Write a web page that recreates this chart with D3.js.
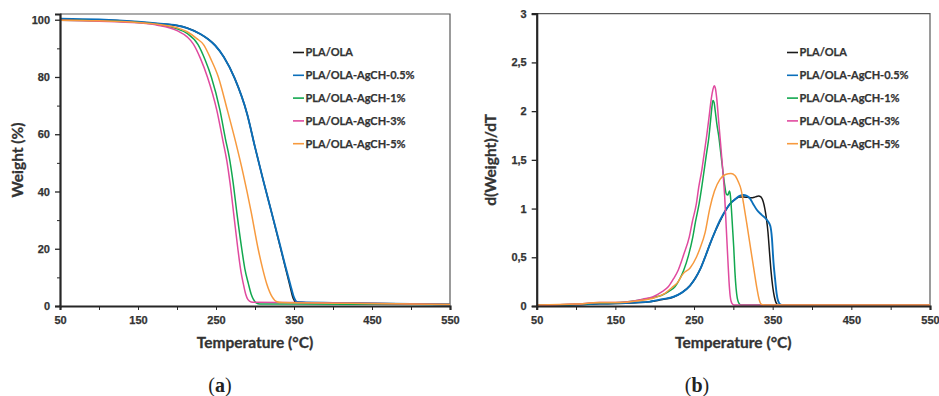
<!DOCTYPE html>
<html>
<head>
<meta charset="utf-8">
<script src="https://cdn.jsdelivr.net/npm/d3@7"></script>
<style>
  body { margin: 0; background: #fff; }
  svg { display: block; font-family: Lato, "Open Sans", sans-serif; }
  .tick text { font-weight: bold; font-size: 11px; fill: #333; stroke: #333; stroke-width: 0.25; }
  .axis path, .axis line { stroke: #262626; }
</style>
</head>
<body>
<div id="chart"></div>
<script>
// series names, same order in both panels
const seriesNames = ["PLA/OLA", "PLA/OLA-AgCH-0.5%", "PLA/OLA-AgCH-1%", "PLA/OLA-AgCH-3%", "PLA/OLA-AgCH-5%"];
const seriesColors = ["#1a1a1a", "#0b6fba", "#12a84f", "#e04a9f", "#f79a3e"];

const xTicks = [50, 100, 150, 200, 250, 300, 350, 400, 450, 500, 550];
const xLabels = [50, 150, 250, 350, 450, 550];
const weightTicks = [0, 20, 40, 60, 80, 100];
const weightMinor = [10, 30, 50, 70, 90];
const dtgTicks = [0, 0.5, 1, 1.5, 2, 2.5, 3];

// (a) TGA : [temperature °C, weight %]
const tgaPLA = [[50,100],[100,99.9],[150,99.2],[175,98.6],[200,98],[213,97.1],[230,95],[240,93.2],[249,91],[260,87],[274,79.5],[290,67],[300,55.5],[310,44.5],[320,34],[330,23.2],[340,12.3],[345,6.8],[349,2.6],[352,1.4],[360,1.2],[400,1.0],[450,0.9],[500,0.7],[550,0.5]];
const tga05 = [[50,100.4],[100,100.1],[150,99.3],[175,98.7],[200,98],[213,97.1],[230,95],[240,93.2],[249,91],[260,87],[274,79.5],[290,67],[300,55.5],[310,44.5],[320,34],[330,23.5],[340,12.8],[345,7.8],[350,3.0],[354,1.4],[360,1.3],[400,1.1],[450,0.9],[500,0.7],[550,0.5]];
const tga1 = [[50,99.8],[100,99.6],[150,99],[175,98.3],[200,96.8],[213,95.2],[227,91.3],[236,86],[244,80],[255,68.5],[262,58.5],[267,52],[272,43],[277,32],[283,20],[287,13],[291.5,7.8],[295,4.2],[298,2.3],[302,1.0],[306,0.7],[350,0.7],[450,0.6],[550,0.5]];
const tga3 = [[50,99.8],[100,99.5],[150,98.9],[175,98.1],[200,96.2],[213,94],[221,91.5],[230,86.5],[239,80],[251,68.4],[259,57.5],[264,50.5],[268,43],[273,31.5],[278,20],[282,12],[285,7.8],[288,4.2],[291,2.2],[295,1.4],[300,1.3],[350,1.2],[450,0.9],[550,0.5]];
const tga5 = [[50,99.8],[100,99.6],[150,99],[175,98.4],[200,97.2],[213,95.8],[225,93.5],[234,91.3],[243,86.5],[253,80],[264,69],[275,57.5],[285,46],[295,33],[304,20],[310,12.8],[315,7.8],[322,3.2],[328,1.5],[335,1.2],[400,1.0],[450,0.9],[500,0.7],[550,0.5]];

// (b) DTG : [temperature °C, d(Weight)/dT]
const dtgPLA = [[50,0.005],[100,0.012],[130,0.022],[150,0.025],[175,0.033],[194,0.043],[200,0.052],[210,0.066],[224,0.093],[235,0.14],[245,0.21],[252,0.29],[258,0.38],[264,0.5],[270,0.63],[276,0.75],[283,0.87],[290,0.98],[296,1.05],[303,1.1],[308,1.12],[313,1.12],[318,1.115],[323,1.11],[328,1.12],[332,1.13],[335,1.12],[338,1.07],[340,1.0],[342,0.9],[344,0.76],[346,0.55],[348,0.35],[350,0.2],[352,0.1],[354,0.04],[357,0.01],[400,0.008],[550,0.008]];
const dtg05 = [[50,0.005],[100,0.014],[130,0.024],[150,0.027],[175,0.035],[194,0.045],[200,0.055],[210,0.07],[224,0.095],[235,0.14],[245,0.21],[252,0.29],[258,0.38],[264,0.5],[270,0.63],[276,0.75],[283,0.88],[290,0.98],[296,1.05],[303,1.1],[308,1.13],[313,1.14],[317,1.13],[321,1.105],[325,1.05],[330,0.985],[336,0.935],[343,0.88],[347,0.82],[349,0.7],[351,0.45],[353,0.28],[355,0.13],[357,0.05],[360,0.015],[363,0.01],[550,0.01]];
const dtg1 = [[50,0.005],[100,0.018],[130,0.03],[150,0.033],[180,0.06],[200,0.09],[209,0.11],[218,0.15],[226,0.2],[232,0.28],[237,0.37],[243,0.52],[248.5,0.71],[252,0.87],[256.5,1.05],[260,1.23],[263,1.4],[266,1.57],[269,1.74],[271,1.9],[273,2.06],[274,2.11],[275.5,2.09],[277,2.0],[279,1.87],[281.5,1.74],[284,1.57],[286.5,1.4],[289,1.24],[291,1.15],[293,1.14],[295,1.18],[296,1.15],[297.5,1.0],[299,0.8],[300.5,0.6],[302,0.35],[303.5,0.18],[305,0.08],[307,0.03],[310,0.01],[550,0.01]];
const dtg3 = [[50,0.005],[100,0.02],[130,0.035],[150,0.035],[169,0.045],[185,0.07],[198,0.095],[208,0.14],[217.5,0.2],[224,0.28],[230,0.37],[237,0.53],[244,0.71],[248,0.87],[253,1.05],[256,1.22],[260,1.4],[263,1.57],[266,1.74],[269,1.93],[272,2.13],[274,2.22],[275.6,2.26],[277,2.24],[279,2.12],[281,1.93],[283,1.74],[286,1.45],[289,1.12],[291,0.8],[293,0.48],[294.5,0.25],[296,0.1],[298,0.03],[301,0.01],[550,0.01]];
const dtg5 = [[50,0.01],[100,0.02],[130,0.035],[150,0.035],[180,0.055],[200,0.085],[213,0.13],[222,0.19],[229,0.24],[236,0.33],[245,0.39],[253,0.5],[258,0.6],[264,0.75],[270,1.0],[276,1.18],[283,1.3],[290,1.35],[297,1.36],[302,1.34],[306,1.28],[310,1.19],[313,1.05],[317,0.85],[323.5,0.51],[327,0.33],[330,0.18],[333,0.06],[336,0.015],[340,0.01],[550,0.01]];

const W = 939, H = 396;
const svg = d3.select("#chart").append("svg").attr("width", W).attr("height", H);
svg.append("rect").attr("width", W).attr("height", H).attr("fill", "#fff");

const fmtComma = d => String(d).replace(".", ",");

function panel(opt) {
    const x = d3.scaleLinear().domain([50, 550]).range([opt.left, opt.right]);
    const y = d3.scaleLinear().domain(opt.yDomain).range([opt.bottom, opt.top]);
    const g = svg.append("g");

    // thin frame on top and right
    g.append("path")
        .attr("d", `M${opt.left},${opt.top}H${opt.right}V${opt.bottom}`)
        .attr("fill", "none")
        .attr("stroke", "#595959")
        .attr("stroke-width", 1.2);

    const clipId = "clip-" + opt.id;
    svg.append("clipPath").attr("id", clipId)
        .append("rect")
        .attr("x", opt.left).attr("y", opt.top - 2)
        .attr("width", opt.right - opt.left).attr("height", opt.bottom - opt.top + 2);

    const line = d3.line()
        .x(d => x(d[0]))
        .y(d => y(d[1]))
        .curve(d3.curveMonotoneX);

    // black first, blue over it, as in the original
    g.append("g").attr("clip-path", `url(#${clipId})`)
        .selectAll("path")
        .data([0, 1, 2, 3, 4])
        .join("path")
        .attr("d", i => line(opt.series[i]))
        .attr("fill", "none")
        .attr("stroke", i => seriesColors[i])
        .attr("stroke-width", i => i === 1 ? 1.9 : 1.5);

    // x axis
    g.append("g")
        .attr("class", "axis")
        .attr("transform", `translate(0,${opt.bottom})`)
        .call(d3.axisBottom(x).tickValues(xTicks).tickSize(4).tickPadding(6)
            .tickFormat(d => xLabels.includes(d) ? d : ""))
        .call(a => a.select(".domain").attr("stroke-width", 2.2));

    // y axis
    const yAxis = g.append("g")
        .attr("class", "axis")
        .attr("transform", `translate(${opt.left},0)`)
        .call(d3.axisLeft(y).tickValues(opt.yTicks).tickSize(5).tickPadding(5)
            .tickFormat(opt.yFormat))
        .call(a => a.select(".domain").attr("stroke-width", 2.2));
    yAxis.selectAll(".tick line").attr("stroke-width", 1.3);

    if (opt.yMinor) {
        g.append("g")
            .attr("class", "axis")
            .attr("transform", `translate(${opt.left},0)`)
            .call(d3.axisLeft(y).tickValues(opt.yMinor).tickSize(3).tickFormat(""))
            .call(a => a.select(".domain").remove());
    }

    // axis titles
    g.append("text")
        .attr("x", (opt.left + opt.right) / 2)
        .attr("y", 348)
        .attr("text-anchor", "middle")
        .attr("font-weight", "bold")
        .attr("font-size", 15.5)
        .attr("fill", "#333")
        .attr("stroke", "#333")
        .attr("stroke-width", 0.3)
        .text("Temperature (°C)");

    g.append("text")
        .attr("transform", `translate(${opt.titleX},${(opt.top + opt.bottom) / 2}) rotate(-90)`)
        .attr("text-anchor", "middle")
        .attr("font-weight", "bold")
        .attr("font-size", 15.5)
        .attr("fill", "#333")
        .attr("stroke", "#333")
        .attr("stroke-width", 0.3)
        .text(opt.yTitle);

    // legend
    const leg = g.append("g")
        .attr("transform", `translate(${opt.legendX},52.5)`);
    const item = leg.selectAll("g")
        .data(seriesNames)
        .join("g")
        .attr("transform", (d, i) => `translate(0,${i * 22.8})`);
    item.append("line")
        .attr("x1", 0).attr("x2", 11)
        .attr("stroke", (d, i) => seriesColors[i])
        .attr("stroke-width", 1.6);
    item.append("text")
        .attr("x", 12.5)
        .attr("dy", "0.36em")
        .attr("font-weight", "bold")
        .attr("font-size", 11)
        .attr("fill", "#333")
        .attr("stroke", "#333")
        .attr("stroke-width", 0.25)
        .text(d => d);

    // caption
    const cap = svg.append("text")
        .attr("x", opt.capX)
        .attr("y", 392)
        .attr("text-anchor", "middle")
        .attr("font-family", "'Liberation Serif', 'DejaVu Serif', serif")
        .attr("font-size", 20)
        .attr("fill", "#222");
    cap.append("tspan").text("(");
    cap.append("tspan").attr("font-weight", "bold").text(opt.cap);
    cap.append("tspan").text(")");
}

panel({
    id: "a", left: 60, right: 450, top: 14, bottom: 306,
    yDomain: [0, 102], yTicks: weightTicks, yMinor: weightMinor, yFormat: d => d,
    yTitle: "Weight (%)", titleX: 23,
    series: [tgaPLA, tga05, tga1, tga3, tga5],
    legendX: 293, capX: 220, cap: "a"
});

panel({
    id: "b", left: 536.7, right: 930, top: 13.7, bottom: 306,
    yDomain: [0, 3], yTicks: dtgTicks, yMinor: null, yFormat: fmtComma,
    yTitle: "d(Weight)/dT", titleX: 496,
    series: [dtgPLA, dtg05, dtg1, dtg3, dtg5],
    legendX: 787, capX: 697, cap: "b"
});
</script>
</body>
</html>
